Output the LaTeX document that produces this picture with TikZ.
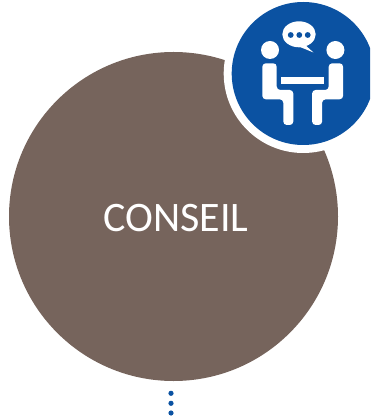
\documentclass[tikz,border=0pt]{standalone}
\usepackage{fontspec}
\setmainfont{Carlito}
\definecolor{taupe}{HTML}{76645C}
\definecolor{royal}{HTML}{0B52A2}
\tikzset{
  icon/.style={fill=white,draw=none},
  person/.style={icon,rounded corners=3.5pt},
  dotmark/.style={circle,fill=royal,draw=none,inner sep=0pt,minimum size=5.2pt}
}
\begin{document}
\begin{tikzpicture}[x=1pt,y=-1pt]
\useasboundingbox (0,0) rectangle (370,419);
\clip (0,0) rectangle (370,419);
\fill[taupe] (173.5,216.5) circle[radius=164.5];
\node[text=white,font=\fontsize{42}{42}\selectfont,inner sep=0pt] (label) at (176,218) {CONSEIL};
\fill[white] (303.2,73.5) circle[radius=79.5];
\fill[royal] (303.2,73.5) circle[radius=71.5];
% speech bubble
\fill[icon] (299,34.3) ellipse[x radius=16.7,y radius=13];
\fill[icon] (304,44) -- (313.5,52.5) -- (300,47) -- cycle;
\foreach \px in {290.7,299.3,307.7}{\fill[royal] (\px,35) circle[radius=2.9];}
% table
\fill[icon] (281.3,77.3) rectangle (324,83.7);
% heads and bodies
\foreach \m in {0,1}{
  \begin{scope}[shift={(\m*605.4,0)},xscale={1-2*\m}]
    \fill[icon] (270,50) circle[radius=9];
    \fill[person] (262.3,99.3) -- (262.3,63.3) -- (276.7,63.3) -- (276.7,90) -- (293.3,90) -- (293.3,125) -- (283.3,125) -- (283.3,99.3) -- cycle;
  \end{scope}
}
% dots
\node[dotmark] (d1) at (171,393.3) {};
\node[dotmark] (d2) at (171,403.3) {};
\node[dotmark] (d3) at (171,413) {};
\end{tikzpicture}
\end{document}
